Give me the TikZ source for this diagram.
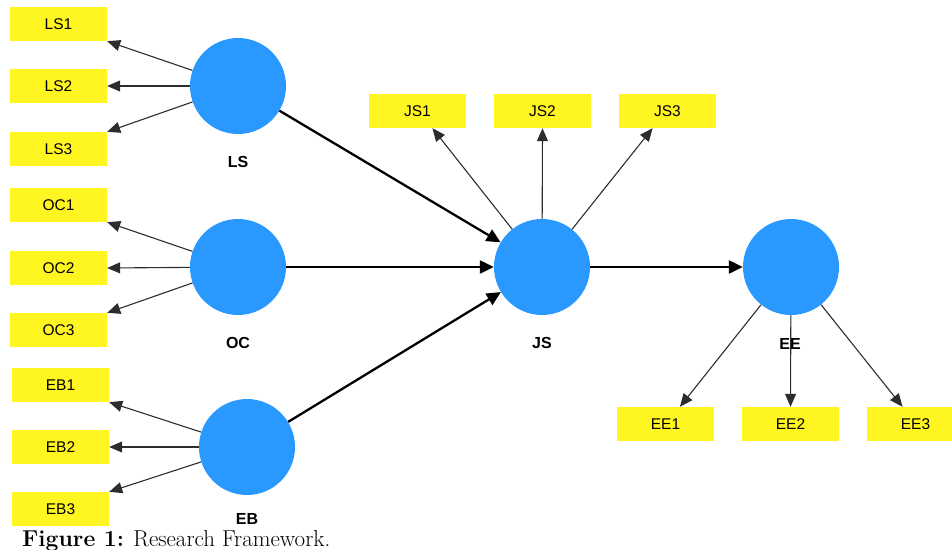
\documentclass[tikz,border=0pt]{standalone}
\usepackage{fontspec}
\newfontfamily\arialfont{Liberation Sans}
\usetikzlibrary{arrows.meta}
\definecolor{latblue}{RGB}{41,152,255}
\definecolor{indyellow}{RGB}{255,245,32}
\definecolor{indline}{RGB}{45,45,45}
\begin{document}
\begin{tikzpicture}[x=1pt,y=-1pt,
  ind/.style={fill=indyellow,draw=none,minimum width=97pt,minimum height=34pt,inner sep=0pt,font=\arialfont\fontsize{15.5}{17}\selectfont},
  lat/.style={circle,fill=latblue,draw=none,minimum size=96pt,inner sep=0pt},
  latlabel/.style={font=\arialfont\bfseries\fontsize{16}{18}\selectfont,inner sep=0pt},
  indarrow/.style={draw=indline,line width=1.1pt,-{Triangle[length=13pt,width=11pt]}},
  patharrow/.style={draw=black,line width=2.3pt,-{Triangle[length=14pt,width=13pt]}}]
\useasboundingbox (0,0) rectangle (952,549);
% indicator boxes
\node[ind] (LS1) at (58.5,24) {LS1};
\node[ind] (LS2) at (58.5,86) {LS2};
\node[ind] (LS3) at (58.5,149) {LS3};
\node[ind] (OC1) at (58.5,205) {OC1};
\node[ind] (OC2) at (58.5,268) {OC2};
\node[ind] (OC3) at (58.5,330) {OC3};
\node[ind] (EB1) at (60.5,385) {EB1};
\node[ind] (EB2) at (60.5,447) {EB2};
\node[ind] (EB3) at (60.5,509) {EB3};
\node[ind] (JS1) at (417.5,111) {JS1};
\node[ind] (JS2) at (542.5,111) {JS2};
\node[ind] (JS3) at (667.5,111) {JS3};
\node[ind] (EE1) at (665.5,424) {EE1};
\node[ind] (EE2) at (790.5,424) {EE2};
\node[ind] (EE3) at (915.5,424) {EE3};
% latent variables
\node[lat] (LS) at (238,86) {};
\node[lat] (OC) at (238,267) {};
\node[lat] (EB) at (247,447) {};
\node[lat] (JS) at (542,267) {};
\node[lat] (EE) at (791,267) {};
% indicator arrows
\draw[indarrow] (LS) -- (LS1.south east);
\draw[indarrow] (LS) -- (LS2.east);
\draw[indarrow] (LS) -- (LS3.north east);
\draw[indarrow] (OC) -- (OC1.south east);
\draw[indarrow] (OC) -- (OC2.east);
\draw[indarrow] (OC) -- (OC3.north east);
\draw[indarrow] (EB) -- (EB1.south east);
\draw[indarrow] (EB) -- (EB2.east);
\draw[indarrow] (EB) -- (EB3.north east);
\draw[indarrow] (JS) -- (JS1.-49);
\draw[indarrow] (JS) -- (JS2.south);
\draw[indarrow] (JS) -- (JS3.-131);
\draw[indarrow] (EE) -- (EE1.50);
\draw[indarrow] (EE) -- (EE2.north);
\draw[indarrow] (EE) -- (EE3.127);
% structural arrows
\draw[patharrow] (LS) -- (JS);
\draw[patharrow] (OC) -- (JS);
\draw[patharrow] (EB) -- (JS);
\draw[patharrow] (JS) -- (EE);
% labels
\node[latlabel] (LSl) at (238,162) {LS};
\node[latlabel] (OCl) at (238,343) {OC};
\node[latlabel] (JSl) at (542,343) {JS};
\node[latlabel] (EBl) at (247,518.5) {EB};
\node[latlabel] (EEl) at (790,344) {EE};
% caption
\node[anchor=base west,inner sep=0pt,font=\fontsize{23}{25}\selectfont] (cap) at (22,546) {\textbf{Figure 1:} Research Framework.};
\end{tikzpicture}
\end{document}
